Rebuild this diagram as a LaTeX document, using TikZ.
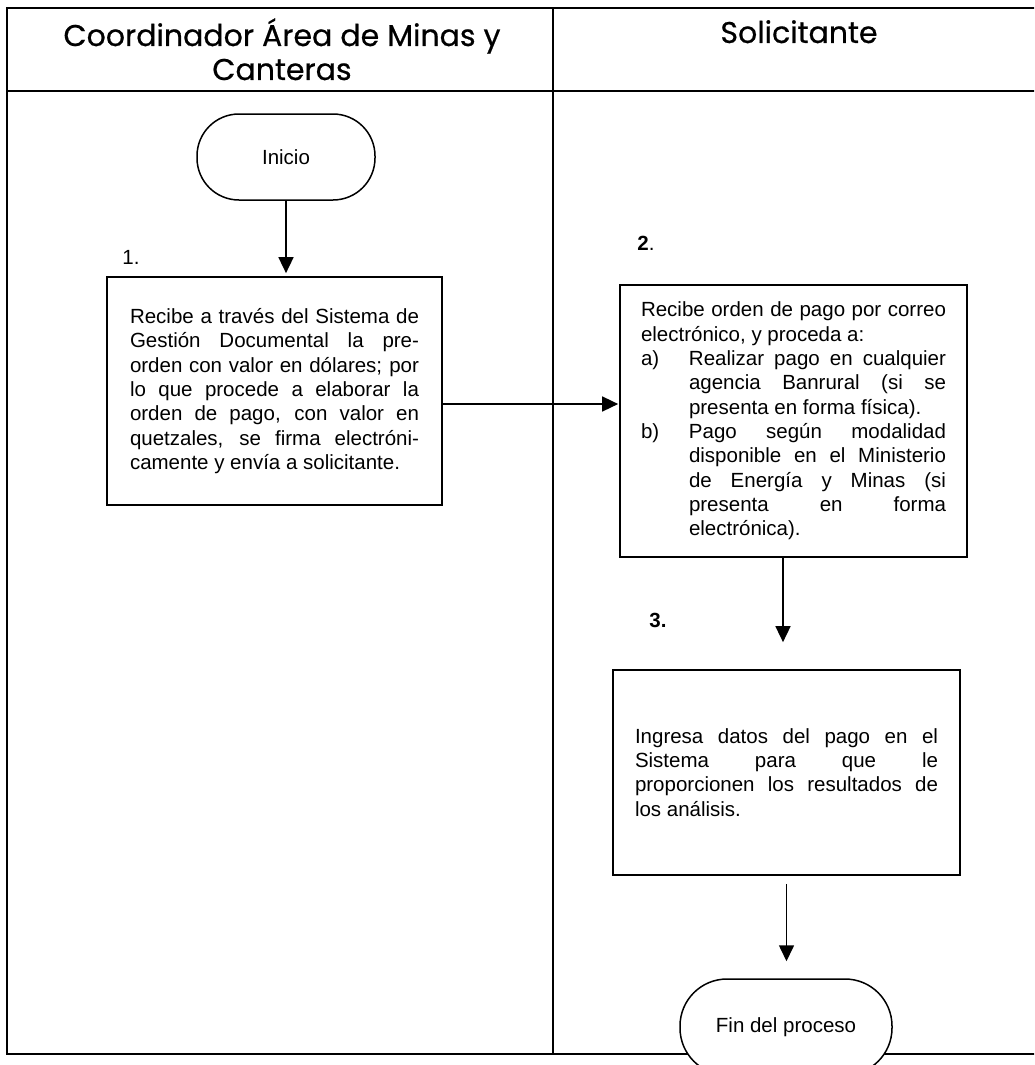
\documentclass[tikz,border=0pt]{standalone}
\usepackage{fontspec}
\setmainfont{Liberation Sans}
\newfontfamily\titulofont{Poppins}[FakeBold=0.6]
\usepackage{tikz}
\usetikzlibrary{arrows.meta, positioning}
\newcommand{\cuerpo}{\fontsize{20.5}{24.3}\selectfont}
\newcommand{\titulo}{\titulofont\fontsize{30}{34}\selectfont}
\tikzset{
  % Flujograma
  fl-terminal/.style={rectangle, rounded corners=42pt, draw=black, line width=1.5pt, fill=white, minimum width=178pt, minimum height=86pt, font=\cuerpo},
  fl-paso/.style={rectangle, draw=black, line width=1.7pt, inner sep=0pt, align=justify, font=\cuerpo,
    execute at begin node={\parindent=0pt\tolerance=10000\hyphenpenalty=10000}},
  fl-flecha/.style={-{Triangle[length=16pt, width=15pt]}, line width=1.6pt},
  fl-num/.style={font=\cuerpo},
  % Tabla
  fl-linea/.style={line width=2.2pt},
  fl-titulo/.style={font=\titulo, anchor=base}
}

\begin{document}
\begin{tikzpicture}[x=1pt, y=-1pt]
    \useasboundingbox (0,0) rectangle (1034,1065);
    \clip (0,0) rectangle (1034,1065);
    % --- Tabla ---
    \draw[fl-linea] (1040,8) -- (7,8) -- (7,1054) -- (1040,1054);
    \draw[fl-linea] (7,91) -- (1040,91);
    \draw[fl-linea] (553,8) -- (553,1054);
    % Encabezados
    \node[fl-titulo] (tit-coord) at (282,46) {Coordinador Área de Minas y};
    \node[fl-titulo] (tit-cant) at (282,80) {Canteras};
    \node[fl-titulo] (tit-sol) at (799,43) {Solicitante};

    % --- Coordinador ---
    \node[fl-terminal] (inicio) at (286,157) {Inicio};
    \node[fl-num] (num1) at (131,257) {1.};
    \node[fl-paso, text width=289pt, minimum width=335pt, minimum height=228pt] (paso1) at (274.5,391) {Recibe a través del Sistema de\linebreak Gestión Documental la pre-\linebreak orden con valor en dólares; por\linebreak lo que procede a elaborar la\linebreak orden de pago, con valor en\linebreak quetzales, se firma electróni-\linebreak camente y envía a solicitante.};

    % --- Solicitante ---
    \node[fl-num] (num2) at (646,243) {\textbf{2}.};
    \node[fl-paso, text width=305pt, minimum width=347pt, minimum height=272pt] (paso2) at (793.5,421) {Recibe orden de pago por correo\linebreak electrónico, y proceda a:\par
      \hangindent=48pt\hangafter=1\makebox[48pt][l]{a)}Realizar pago en cualquier\linebreak agencia Banrural (si se\linebreak presenta en forma física).\par
      \hangindent=48pt\hangafter=1\makebox[48pt][l]{b)}Pago según modalidad\linebreak disponible en el Ministerio\linebreak de Energía y Minas (si\linebreak presenta en forma\linebreak electrónica).\par};
    \node[fl-num] (num3) at (658,620) {\textbf{3.}};
    \node[fl-paso, text width=303pt, minimum width=347pt, minimum height=205pt] (paso3) at (786.5,772.5) {Ingresa datos del pago en el\linebreak Sistema para que le\linebreak proporcionen los resultados de\linebreak los análisis.};
    \node[fl-terminal, rounded corners=47pt, minimum width=212pt, minimum height=96pt] (fin) at (786,1027) {Fin del proceso};

    % --- Flechas ---
    \draw[fl-flecha, shorten >=3pt] (inicio.south) -- (inicio.south |- paso1.north);
    \draw[fl-flecha, shorten >=1pt] ([yshift=-13pt]paso1.east) -- ([yshift=-13pt]paso1.east -| paso2.west);
    \draw[fl-flecha, shorten >=27pt] ([xshift=-10.5pt]paso2.south) -- ([xshift=-10.5pt]paso2.south |- paso3.north);
    \draw[fl-flecha, shorten <=8pt, shorten >=17pt] (paso3.south) -- (paso3.south |- fin.north);
\end{tikzpicture}
\end{document}
